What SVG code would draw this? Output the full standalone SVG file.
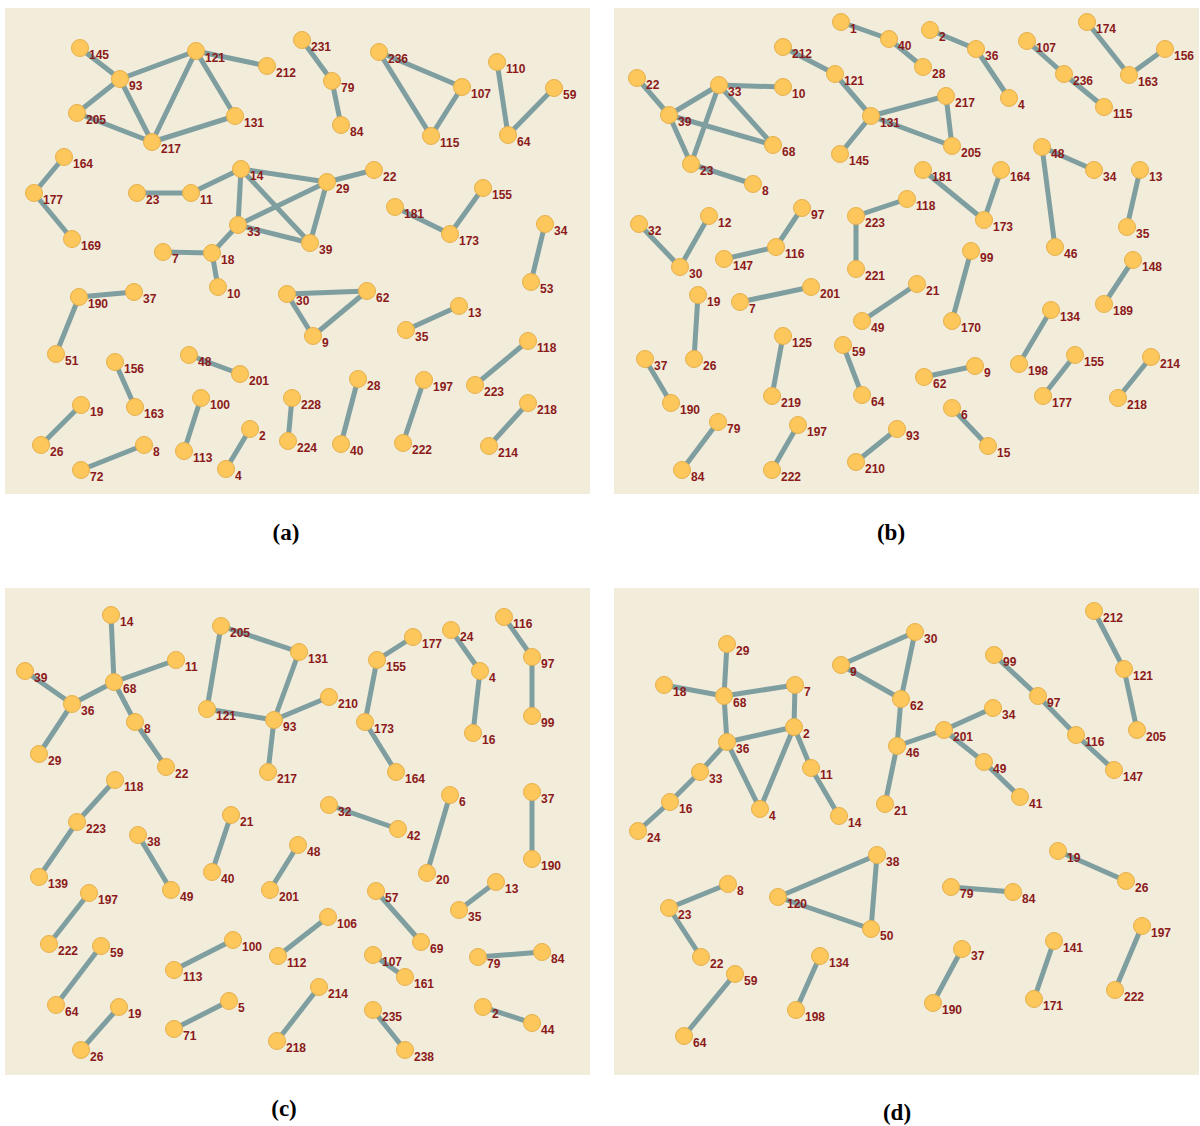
<svg xmlns="http://www.w3.org/2000/svg" width="1200" height="1126" viewBox="0 0 1200 1126">
<style>
.bg{fill:#f2ecdb}
.e line{stroke:#7f9ea0;stroke-width:5;stroke-linecap:round}
.n circle{fill:#fdc75c;stroke:#e6b04a;stroke-width:1}
.n text{font-family:"Liberation Sans",Arial,sans-serif;font-weight:bold;font-size:12px;fill:#8b1a1a}
.cap{font-family:"Liberation Serif","Times New Roman",serif;font-weight:bold;font-size:23px;fill:#000;text-anchor:middle}
</style>
<rect class="bg" x="5" y="8" width="585" height="486"/>
<rect class="bg" x="614" y="8" width="585" height="486"/>
<rect class="bg" x="5" y="588" width="585" height="487"/>
<rect class="bg" x="614" y="588" width="585" height="487"/>
<text class="cap" x="286" y="540">(a)</text>
<text class="cap" x="891" y="540">(b)</text>
<text class="cap" x="284" y="1116">(c)</text>
<text class="cap" x="897" y="1120">(d)</text>

<g id="a-edges" class="e">
<line x1="80" y1="48" x2="120" y2="79"/><line x1="120" y1="79" x2="196" y2="51"/><line x1="120" y1="79" x2="77" y2="113"/><line x1="120" y1="79" x2="152" y2="142"/><line x1="77" y1="113" x2="152" y2="142"/><line x1="196" y1="51" x2="152" y2="142"/><line x1="196" y1="51" x2="267" y2="66"/><line x1="196" y1="51" x2="235" y2="116"/><line x1="235" y1="116" x2="152" y2="142"/>
<line x1="64" y1="157" x2="34" y2="193"/><line x1="34" y1="193" x2="72" y2="239"/>
<line x1="137" y1="193" x2="191" y2="193"/><line x1="191" y1="193" x2="241" y2="169"/><line x1="241" y1="169" x2="327" y2="182"/><line x1="241" y1="169" x2="238" y2="225"/><line x1="241" y1="169" x2="310" y2="243"/><line x1="238" y1="225" x2="327" y2="182"/><line x1="238" y1="225" x2="310" y2="243"/><line x1="327" y1="182" x2="310" y2="243"/><line x1="327" y1="182" x2="374" y2="170"/><line x1="238" y1="225" x2="212" y2="253"/><line x1="212" y1="253" x2="163" y2="252"/><line x1="212" y1="253" x2="218" y2="287"/>
<line x1="302" y1="40" x2="332" y2="81"/><line x1="332" y1="81" x2="341" y2="125"/>
<line x1="379" y1="52" x2="462" y2="87"/><line x1="379" y1="52" x2="431" y2="136"/><line x1="462" y1="87" x2="431" y2="136"/>
<line x1="497" y1="62" x2="508" y2="135"/><line x1="554" y1="88" x2="508" y2="135"/>
<line x1="395" y1="207" x2="450" y2="234"/><line x1="450" y1="234" x2="483" y2="188"/>
<line x1="545" y1="224" x2="531" y2="282"/>
<line x1="79" y1="297" x2="134" y2="292"/><line x1="79" y1="297" x2="56" y2="354"/>
<line x1="287" y1="294" x2="367" y2="291"/><line x1="287" y1="294" x2="313" y2="336"/><line x1="367" y1="291" x2="313" y2="336"/>
<line x1="406" y1="330" x2="459" y2="306"/>
<line x1="115" y1="362" x2="135" y2="407"/>
<line x1="189" y1="355" x2="240" y2="374"/>
<line x1="528" y1="341" x2="475" y2="385"/>
<line x1="81" y1="405" x2="41" y2="445"/>
<line x1="201" y1="398" x2="184" y2="451"/>
<line x1="250" y1="429" x2="226" y2="469"/>
<line x1="292" y1="398" x2="288" y2="441"/>
<line x1="358" y1="379" x2="341" y2="444"/>
<line x1="424" y1="380" x2="403" y2="443"/>
<line x1="528" y1="403" x2="489" y2="446"/>
<line x1="144" y1="445" x2="81" y2="470"/>
</g>

<g id="b-edges" class="e">
<line x1="841" y1="22" x2="889" y2="39"/><line x1="889" y1="39" x2="923" y2="67"/>
<line x1="930" y1="30" x2="976" y2="49"/><line x1="976" y1="49" x2="1009" y2="98"/>
<line x1="1027" y1="41" x2="1064" y2="74"/><line x1="1064" y1="74" x2="1104" y2="107"/>
<line x1="1087" y1="22" x2="1129" y2="75"/><line x1="1129" y1="75" x2="1165" y2="49"/>
<line x1="783" y1="47" x2="835" y2="74"/><line x1="835" y1="74" x2="871" y2="116"/><line x1="871" y1="116" x2="840" y2="154"/><line x1="871" y1="116" x2="946" y2="96"/><line x1="871" y1="116" x2="952" y2="146"/><line x1="946" y1="96" x2="952" y2="146"/>
<line x1="637" y1="78" x2="669" y2="115"/><line x1="669" y1="115" x2="719" y2="85"/><line x1="669" y1="115" x2="691" y2="164"/><line x1="669" y1="115" x2="773" y2="145"/><line x1="719" y1="85" x2="783" y2="87"/><line x1="719" y1="85" x2="691" y2="164"/><line x1="719" y1="85" x2="773" y2="145"/><line x1="691" y1="164" x2="753" y2="184"/>
<line x1="1042" y1="147" x2="1094" y2="170"/><line x1="1042" y1="147" x2="1055" y2="247"/>
<line x1="1140" y1="170" x2="1127" y2="227"/>
<line x1="923" y1="170" x2="984" y2="220"/><line x1="1001" y1="170" x2="984" y2="220"/>
<line x1="639" y1="224" x2="680" y2="267"/><line x1="709" y1="216" x2="680" y2="267"/>
<line x1="724" y1="259" x2="776" y2="247"/><line x1="776" y1="247" x2="802" y2="208"/>
<line x1="856" y1="216" x2="907" y2="199"/><line x1="856" y1="216" x2="856" y2="269"/>
<line x1="971" y1="251" x2="952" y2="321"/>
<line x1="1133" y1="260" x2="1104" y2="304"/>
<line x1="698" y1="295" x2="694" y2="359"/>
<line x1="740" y1="302" x2="811" y2="287"/>
<line x1="917" y1="284" x2="862" y2="321"/>
<line x1="1051" y1="310" x2="1019" y2="364"/>
<line x1="1075" y1="355" x2="1043" y2="396"/>
<line x1="1151" y1="357" x2="1118" y2="398"/>
<line x1="783" y1="336" x2="772" y2="396"/>
<line x1="843" y1="345" x2="862" y2="395"/>
<line x1="924" y1="377" x2="975" y2="366"/>
<line x1="645" y1="359" x2="671" y2="403"/>
<line x1="952" y1="408" x2="988" y2="446"/>
<line x1="718" y1="422" x2="682" y2="470"/>
<line x1="798" y1="425" x2="772" y2="470"/>
<line x1="897" y1="429" x2="856" y2="462"/>
</g>

<g id="c-edges" class="e">
<line x1="111" y1="615" x2="114" y2="682"/><line x1="114" y1="682" x2="176" y2="660"/><line x1="114" y1="682" x2="72" y2="704"/><line x1="114" y1="682" x2="135" y2="722"/><line x1="25" y1="671" x2="72" y2="704"/><line x1="72" y1="704" x2="39" y2="754"/><line x1="135" y1="722" x2="166" y2="767"/>
<line x1="221" y1="626" x2="299" y2="652"/><line x1="221" y1="626" x2="207" y2="709"/><line x1="207" y1="709" x2="274" y2="720"/><line x1="274" y1="720" x2="299" y2="652"/><line x1="274" y1="720" x2="329" y2="697"/><line x1="274" y1="720" x2="268" y2="772"/>
<line x1="413" y1="637" x2="377" y2="660"/><line x1="377" y1="660" x2="365" y2="722"/><line x1="365" y1="722" x2="396" y2="772"/>
<line x1="451" y1="630" x2="480" y2="671"/><line x1="480" y1="671" x2="473" y2="733"/>
<line x1="504" y1="617" x2="532" y2="657"/><line x1="532" y1="657" x2="532" y2="716"/>
<line x1="115" y1="780" x2="77" y2="822"/><line x1="77" y1="822" x2="39" y2="877"/>
<line x1="138" y1="835" x2="171" y2="890"/>
<line x1="231" y1="815" x2="212" y2="872"/>
<line x1="298" y1="845" x2="270" y2="890"/>
<line x1="329" y1="805" x2="398" y2="829"/>
<line x1="450" y1="795" x2="427" y2="873"/>
<line x1="532" y1="792" x2="532" y2="859"/>
<line x1="89" y1="893" x2="49" y2="944"/>
<line x1="101" y1="946" x2="56" y2="1005"/>
<line x1="119" y1="1007" x2="81" y2="1050"/>
<line x1="233" y1="940" x2="174" y2="970"/>
<line x1="229" y1="1001" x2="174" y2="1029"/>
<line x1="328" y1="917" x2="278" y2="956"/>
<line x1="319" y1="987" x2="277" y2="1041"/>
<line x1="376" y1="891" x2="421" y2="942"/>
<line x1="496" y1="882" x2="459" y2="910"/>
<line x1="373" y1="955" x2="405" y2="977"/>
<line x1="478" y1="957" x2="542" y2="952"/>
<line x1="373" y1="1010" x2="405" y2="1050"/>
<line x1="483" y1="1007" x2="532" y2="1023"/>
</g>

<g id="d-edges" class="e">
<line x1="727" y1="644" x2="724" y2="696"/><line x1="664" y1="685" x2="724" y2="696"/><line x1="724" y1="696" x2="795" y2="685"/><line x1="724" y1="696" x2="727" y2="742"/><line x1="795" y1="685" x2="794" y2="727"/><line x1="794" y1="727" x2="727" y2="742"/><line x1="794" y1="727" x2="760" y2="809"/><line x1="794" y1="727" x2="811" y2="768"/><line x1="811" y1="768" x2="839" y2="816"/><line x1="727" y1="742" x2="760" y2="809"/><line x1="727" y1="742" x2="700" y2="772"/><line x1="700" y1="772" x2="670" y2="802"/><line x1="670" y1="802" x2="638" y2="831"/>
<line x1="841" y1="665" x2="915" y2="632"/><line x1="841" y1="665" x2="901" y2="699"/><line x1="915" y1="632" x2="901" y2="699"/><line x1="901" y1="699" x2="897" y2="746"/><line x1="897" y1="746" x2="885" y2="804"/><line x1="897" y1="746" x2="944" y2="730"/><line x1="944" y1="730" x2="993" y2="708"/><line x1="944" y1="730" x2="984" y2="762"/><line x1="984" y1="762" x2="1020" y2="797"/>
<line x1="994" y1="655" x2="1038" y2="696"/><line x1="1038" y1="696" x2="1076" y2="735"/><line x1="1076" y1="735" x2="1114" y2="770"/>
<line x1="1094" y1="611" x2="1124" y2="669"/><line x1="1124" y1="669" x2="1137" y2="730"/>
<line x1="877" y1="855" x2="778" y2="897"/><line x1="877" y1="855" x2="871" y2="929"/><line x1="778" y1="897" x2="871" y2="929"/>
<line x1="728" y1="884" x2="669" y2="908"/><line x1="669" y1="908" x2="701" y2="957"/>
<line x1="735" y1="974" x2="684" y2="1036"/>
<line x1="820" y1="956" x2="796" y2="1010"/>
<line x1="1058" y1="851" x2="1126" y2="881"/>
<line x1="951" y1="887" x2="1013" y2="892"/>
<line x1="962" y1="949" x2="933" y2="1003"/>
<line x1="1054" y1="941" x2="1034" y2="999"/>
<line x1="1142" y1="926" x2="1115" y2="990"/>
</g>

<g id="a-145" class="n"><circle cx="80" cy="48" r="8.5"/><text x="89" y="59">145</text></g>
<g id="a-93" class="n"><circle cx="120" cy="79" r="8.5"/><text x="129" y="90">93</text></g>
<g id="a-205" class="n"><circle cx="77" cy="113" r="8.5"/><text x="86" y="124">205</text></g>
<g id="a-217" class="n"><circle cx="152" cy="142" r="8.5"/><text x="161" y="153">217</text></g>
<g id="a-121" class="n"><circle cx="196" cy="51" r="8.5"/><text x="205" y="62">121</text></g>
<g id="a-212" class="n"><circle cx="267" cy="66" r="8.5"/><text x="276" y="77">212</text></g>
<g id="a-131" class="n"><circle cx="235" cy="116" r="8.5"/><text x="244" y="127">131</text></g>
<g id="a-164" class="n"><circle cx="64" cy="157" r="8.5"/><text x="73" y="168">164</text></g>
<g id="a-177" class="n"><circle cx="34" cy="193" r="8.5"/><text x="43" y="204">177</text></g>
<g id="a-169" class="n"><circle cx="72" cy="239" r="8.5"/><text x="81" y="250">169</text></g>
<g id="a-23" class="n"><circle cx="137" cy="193" r="8.5"/><text x="146" y="204">23</text></g>
<g id="a-11" class="n"><circle cx="191" cy="193" r="8.5"/><text x="200" y="204">11</text></g>
<g id="a-14" class="n"><circle cx="241" cy="169" r="8.5"/><text x="250" y="180">14</text></g>
<g id="a-33" class="n"><circle cx="238" cy="225" r="8.5"/><text x="247" y="236">33</text></g>
<g id="a-18" class="n"><circle cx="212" cy="253" r="8.5"/><text x="221" y="264">18</text></g>
<g id="a-7" class="n"><circle cx="163" cy="252" r="8.5"/><text x="172" y="263">7</text></g>
<g id="a-10" class="n"><circle cx="218" cy="287" r="8.5"/><text x="227" y="298">10</text></g>
<g id="a-190" class="n"><circle cx="79" cy="297" r="8.5"/><text x="88" y="308">190</text></g>
<g id="a-37" class="n"><circle cx="134" cy="292" r="8.5"/><text x="143" y="303">37</text></g>
<g id="a-51" class="n"><circle cx="56" cy="354" r="8.5"/><text x="65" y="365">51</text></g>
<g id="a-156" class="n"><circle cx="115" cy="362" r="8.5"/><text x="124" y="373">156</text></g>
<g id="a-163" class="n"><circle cx="135" cy="407" r="8.5"/><text x="144" y="418">163</text></g>
<g id="a-48" class="n"><circle cx="189" cy="355" r="8.5"/><text x="198" y="366">48</text></g>
<g id="a-201" class="n"><circle cx="240" cy="374" r="8.5"/><text x="249" y="385">201</text></g>
<g id="a-19" class="n"><circle cx="81" cy="405" r="8.5"/><text x="90" y="416">19</text></g>
<g id="a-26" class="n"><circle cx="41" cy="445" r="8.5"/><text x="50" y="456">26</text></g>
<g id="a-100" class="n"><circle cx="201" cy="398" r="8.5"/><text x="210" y="409">100</text></g>
<g id="a-113" class="n"><circle cx="184" cy="451" r="8.5"/><text x="193" y="462">113</text></g>
<g id="a-2" class="n"><circle cx="250" cy="429" r="8.5"/><text x="259" y="440">2</text></g>
<g id="a-4" class="n"><circle cx="226" cy="469" r="8.5"/><text x="235" y="480">4</text></g>
<g id="a-8" class="n"><circle cx="144" cy="445" r="8.5"/><text x="153" y="456">8</text></g>
<g id="a-72" class="n"><circle cx="81" cy="470" r="8.5"/><text x="90" y="481">72</text></g>
<g id="a-231" class="n"><circle cx="302" cy="40" r="8.5"/><text x="311" y="51">231</text></g>
<g id="a-79" class="n"><circle cx="332" cy="81" r="8.5"/><text x="341" y="92">79</text></g>
<g id="a-84" class="n"><circle cx="341" cy="125" r="8.5"/><text x="350" y="136">84</text></g>
<g id="a-236" class="n"><circle cx="379" cy="52" r="8.5"/><text x="388" y="63">236</text></g>
<g id="a-107" class="n"><circle cx="462" cy="87" r="8.5"/><text x="471" y="98">107</text></g>
<g id="a-115" class="n"><circle cx="431" cy="136" r="8.5"/><text x="440" y="147">115</text></g>
<g id="a-110" class="n"><circle cx="497" cy="62" r="8.5"/><text x="506" y="73">110</text></g>
<g id="a-59" class="n"><circle cx="554" cy="88" r="8.5"/><text x="563" y="99">59</text></g>
<g id="a-64" class="n"><circle cx="508" cy="135" r="8.5"/><text x="517" y="146">64</text></g>
<g id="a-22" class="n"><circle cx="374" cy="170" r="8.5"/><text x="383" y="181">22</text></g>
<g id="a-29" class="n"><circle cx="327" cy="182" r="8.5"/><text x="336" y="193">29</text></g>
<g id="a-39" class="n"><circle cx="310" cy="243" r="8.5"/><text x="319" y="254">39</text></g>
<g id="a-181" class="n"><circle cx="395" cy="207" r="8.5"/><text x="404" y="218">181</text></g>
<g id="a-173" class="n"><circle cx="450" cy="234" r="8.5"/><text x="459" y="245">173</text></g>
<g id="a-155" class="n"><circle cx="483" cy="188" r="8.5"/><text x="492" y="199">155</text></g>
<g id="a-34" class="n"><circle cx="545" cy="224" r="8.5"/><text x="554" y="235">34</text></g>
<g id="a-53" class="n"><circle cx="531" cy="282" r="8.5"/><text x="540" y="293">53</text></g>
<g id="a-30" class="n"><circle cx="287" cy="294" r="8.5"/><text x="296" y="305">30</text></g>
<g id="a-62" class="n"><circle cx="367" cy="291" r="8.5"/><text x="376" y="302">62</text></g>
<g id="a-9" class="n"><circle cx="313" cy="336" r="8.5"/><text x="322" y="347">9</text></g>
<g id="a-35" class="n"><circle cx="406" cy="330" r="8.5"/><text x="415" y="341">35</text></g>
<g id="a-13" class="n"><circle cx="459" cy="306" r="8.5"/><text x="468" y="317">13</text></g>
<g id="a-118" class="n"><circle cx="528" cy="341" r="8.5"/><text x="537" y="352">118</text></g>
<g id="a-223" class="n"><circle cx="475" cy="385" r="8.5"/><text x="484" y="396">223</text></g>
<g id="a-28" class="n"><circle cx="358" cy="379" r="8.5"/><text x="367" y="390">28</text></g>
<g id="a-40" class="n"><circle cx="341" cy="444" r="8.5"/><text x="350" y="455">40</text></g>
<g id="a-197" class="n"><circle cx="424" cy="380" r="8.5"/><text x="433" y="391">197</text></g>
<g id="a-222" class="n"><circle cx="403" cy="443" r="8.5"/><text x="412" y="454">222</text></g>
<g id="a-218" class="n"><circle cx="528" cy="403" r="8.5"/><text x="537" y="414">218</text></g>
<g id="a-214" class="n"><circle cx="489" cy="446" r="8.5"/><text x="498" y="457">214</text></g>
<g id="a-228" class="n"><circle cx="292" cy="398" r="8.5"/><text x="301" y="409">228</text></g>
<g id="a-224" class="n"><circle cx="288" cy="441" r="8.5"/><text x="297" y="452">224</text></g>

<g id="b-1" class="n"><circle cx="841" cy="22" r="8.5"/><text x="850" y="33">1</text></g>
<g id="b-40" class="n"><circle cx="889" cy="39" r="8.5"/><text x="898" y="50">40</text></g>
<g id="b-28" class="n"><circle cx="923" cy="67" r="8.5"/><text x="932" y="78">28</text></g>
<g id="b-212" class="n"><circle cx="783" cy="47" r="8.5"/><text x="792" y="58">212</text></g>
<g id="b-121" class="n"><circle cx="835" cy="74" r="8.5"/><text x="844" y="85">121</text></g>
<g id="b-131" class="n"><circle cx="871" cy="116" r="8.5"/><text x="880" y="127">131</text></g>
<g id="b-145" class="n"><circle cx="840" cy="154" r="8.5"/><text x="849" y="165">145</text></g>
<g id="b-217" class="n"><circle cx="946" cy="96" r="8.5"/><text x="955" y="107">217</text></g>
<g id="b-205" class="n"><circle cx="952" cy="146" r="8.5"/><text x="961" y="157">205</text></g>
<g id="b-22" class="n"><circle cx="637" cy="78" r="8.5"/><text x="646" y="89">22</text></g>
<g id="b-39" class="n"><circle cx="669" cy="115" r="8.5"/><text x="678" y="126">39</text></g>
<g id="b-33" class="n"><circle cx="719" cy="85" r="8.5"/><text x="728" y="96">33</text></g>
<g id="b-10" class="n"><circle cx="783" cy="87" r="8.5"/><text x="792" y="98">10</text></g>
<g id="b-68" class="n"><circle cx="773" cy="145" r="8.5"/><text x="782" y="156">68</text></g>
<g id="b-23" class="n"><circle cx="691" cy="164" r="8.5"/><text x="700" y="175">23</text></g>
<g id="b-8" class="n"><circle cx="753" cy="184" r="8.5"/><text x="762" y="195">8</text></g>
<g id="b-32" class="n"><circle cx="639" cy="224" r="8.5"/><text x="648" y="235">32</text></g>
<g id="b-12" class="n"><circle cx="709" cy="216" r="8.5"/><text x="718" y="227">12</text></g>
<g id="b-30" class="n"><circle cx="680" cy="267" r="8.5"/><text x="689" y="278">30</text></g>
<g id="b-147" class="n"><circle cx="724" cy="259" r="8.5"/><text x="733" y="270">147</text></g>
<g id="b-116" class="n"><circle cx="776" cy="247" r="8.5"/><text x="785" y="258">116</text></g>
<g id="b-97" class="n"><circle cx="802" cy="208" r="8.5"/><text x="811" y="219">97</text></g>
<g id="b-223" class="n"><circle cx="856" cy="216" r="8.5"/><text x="865" y="227">223</text></g>
<g id="b-118" class="n"><circle cx="907" cy="199" r="8.5"/><text x="916" y="210">118</text></g>
<g id="b-221" class="n"><circle cx="856" cy="269" r="8.5"/><text x="865" y="280">221</text></g>
<g id="b-19" class="n"><circle cx="698" cy="295" r="8.5"/><text x="707" y="306">19</text></g>
<g id="b-26" class="n"><circle cx="694" cy="359" r="8.5"/><text x="703" y="370">26</text></g>
<g id="b-7" class="n"><circle cx="740" cy="302" r="8.5"/><text x="749" y="313">7</text></g>
<g id="b-201" class="n"><circle cx="811" cy="287" r="8.5"/><text x="820" y="298">201</text></g>
<g id="b-49" class="n"><circle cx="862" cy="321" r="8.5"/><text x="871" y="332">49</text></g>
<g id="b-21" class="n"><circle cx="917" cy="284" r="8.5"/><text x="926" y="295">21</text></g>
<g id="b-37" class="n"><circle cx="645" cy="359" r="8.5"/><text x="654" y="370">37</text></g>
<g id="b-190" class="n"><circle cx="671" cy="403" r="8.5"/><text x="680" y="414">190</text></g>
<g id="b-125" class="n"><circle cx="783" cy="336" r="8.5"/><text x="792" y="347">125</text></g>
<g id="b-219" class="n"><circle cx="772" cy="396" r="8.5"/><text x="781" y="407">219</text></g>
<g id="b-59" class="n"><circle cx="843" cy="345" r="8.5"/><text x="852" y="356">59</text></g>
<g id="b-64" class="n"><circle cx="862" cy="395" r="8.5"/><text x="871" y="406">64</text></g>
<g id="b-79" class="n"><circle cx="718" cy="422" r="8.5"/><text x="727" y="433">79</text></g>
<g id="b-84" class="n"><circle cx="682" cy="470" r="8.5"/><text x="691" y="481">84</text></g>
<g id="b-197" class="n"><circle cx="798" cy="425" r="8.5"/><text x="807" y="436">197</text></g>
<g id="b-222" class="n"><circle cx="772" cy="470" r="8.5"/><text x="781" y="481">222</text></g>
<g id="b-93" class="n"><circle cx="897" cy="429" r="8.5"/><text x="906" y="440">93</text></g>
<g id="b-210" class="n"><circle cx="856" cy="462" r="8.5"/><text x="865" y="473">210</text></g>
<g id="b-2" class="n"><circle cx="930" cy="30" r="8.5"/><text x="939" y="41">2</text></g>
<g id="b-36" class="n"><circle cx="976" cy="49" r="8.5"/><text x="985" y="60">36</text></g>
<g id="b-4" class="n"><circle cx="1009" cy="98" r="8.5"/><text x="1018" y="109">4</text></g>
<g id="b-107" class="n"><circle cx="1027" cy="41" r="8.5"/><text x="1036" y="52">107</text></g>
<g id="b-236" class="n"><circle cx="1064" cy="74" r="8.5"/><text x="1073" y="85">236</text></g>
<g id="b-115" class="n"><circle cx="1104" cy="107" r="8.5"/><text x="1113" y="118">115</text></g>
<g id="b-174" class="n"><circle cx="1087" cy="22" r="8.5"/><text x="1096" y="33">174</text></g>
<g id="b-163" class="n"><circle cx="1129" cy="75" r="8.5"/><text x="1138" y="86">163</text></g>
<g id="b-156" class="n"><circle cx="1165" cy="49" r="8.5"/><text x="1174" y="60">156</text></g>
<g id="b-48" class="n"><circle cx="1042" cy="147" r="8.5"/><text x="1051" y="158">48</text></g>
<g id="b-34" class="n"><circle cx="1094" cy="170" r="8.5"/><text x="1103" y="181">34</text></g>
<g id="b-46" class="n"><circle cx="1055" cy="247" r="8.5"/><text x="1064" y="258">46</text></g>
<g id="b-13" class="n"><circle cx="1140" cy="170" r="8.5"/><text x="1149" y="181">13</text></g>
<g id="b-35" class="n"><circle cx="1127" cy="227" r="8.5"/><text x="1136" y="238">35</text></g>
<g id="b-181" class="n"><circle cx="923" cy="170" r="8.5"/><text x="932" y="181">181</text></g>
<g id="b-164" class="n"><circle cx="1001" cy="170" r="8.5"/><text x="1010" y="181">164</text></g>
<g id="b-173" class="n"><circle cx="984" cy="220" r="8.5"/><text x="993" y="231">173</text></g>
<g id="b-99" class="n"><circle cx="971" cy="251" r="8.5"/><text x="980" y="262">99</text></g>
<g id="b-170" class="n"><circle cx="952" cy="321" r="8.5"/><text x="961" y="332">170</text></g>
<g id="b-148" class="n"><circle cx="1133" cy="260" r="8.5"/><text x="1142" y="271">148</text></g>
<g id="b-189" class="n"><circle cx="1104" cy="304" r="8.5"/><text x="1113" y="315">189</text></g>
<g id="b-134" class="n"><circle cx="1051" cy="310" r="8.5"/><text x="1060" y="321">134</text></g>
<g id="b-198" class="n"><circle cx="1019" cy="364" r="8.5"/><text x="1028" y="375">198</text></g>
<g id="b-155" class="n"><circle cx="1075" cy="355" r="8.5"/><text x="1084" y="366">155</text></g>
<g id="b-177" class="n"><circle cx="1043" cy="396" r="8.5"/><text x="1052" y="407">177</text></g>
<g id="b-214" class="n"><circle cx="1151" cy="357" r="8.5"/><text x="1160" y="368">214</text></g>
<g id="b-218" class="n"><circle cx="1118" cy="398" r="8.5"/><text x="1127" y="409">218</text></g>
<g id="b-62" class="n"><circle cx="924" cy="377" r="8.5"/><text x="933" y="388">62</text></g>
<g id="b-9" class="n"><circle cx="975" cy="366" r="8.5"/><text x="984" y="377">9</text></g>
<g id="b-6" class="n"><circle cx="952" cy="408" r="8.5"/><text x="961" y="419">6</text></g>
<g id="b-15" class="n"><circle cx="988" cy="446" r="8.5"/><text x="997" y="457">15</text></g>

<g id="c-14" class="n"><circle cx="111" cy="615" r="8.5"/><text x="120" y="626">14</text></g>
<g id="c-39" class="n"><circle cx="25" cy="671" r="8.5"/><text x="34" y="682">39</text></g>
<g id="c-68" class="n"><circle cx="114" cy="682" r="8.5"/><text x="123" y="693">68</text></g>
<g id="c-11" class="n"><circle cx="176" cy="660" r="8.5"/><text x="185" y="671">11</text></g>
<g id="c-36" class="n"><circle cx="72" cy="704" r="8.5"/><text x="81" y="715">36</text></g>
<g id="c-8" class="n"><circle cx="135" cy="722" r="8.5"/><text x="144" y="733">8</text></g>
<g id="c-29" class="n"><circle cx="39" cy="754" r="8.5"/><text x="48" y="765">29</text></g>
<g id="c-22" class="n"><circle cx="166" cy="767" r="8.5"/><text x="175" y="778">22</text></g>
<g id="c-205" class="n"><circle cx="221" cy="626" r="8.5"/><text x="230" y="637">205</text></g>
<g id="c-121" class="n"><circle cx="207" cy="709" r="8.5"/><text x="216" y="720">121</text></g>
<g id="c-93" class="n"><circle cx="274" cy="720" r="8.5"/><text x="283" y="731">93</text></g>
<g id="c-217" class="n"><circle cx="268" cy="772" r="8.5"/><text x="277" y="783">217</text></g>
<g id="c-131" class="n"><circle cx="299" cy="652" r="8.5"/><text x="308" y="663">131</text></g>
<g id="c-210" class="n"><circle cx="329" cy="697" r="8.5"/><text x="338" y="708">210</text></g>
<g id="c-118" class="n"><circle cx="115" cy="780" r="8.5"/><text x="124" y="791">118</text></g>
<g id="c-223" class="n"><circle cx="77" cy="822" r="8.5"/><text x="86" y="833">223</text></g>
<g id="c-139" class="n"><circle cx="39" cy="877" r="8.5"/><text x="48" y="888">139</text></g>
<g id="c-38" class="n"><circle cx="138" cy="835" r="8.5"/><text x="147" y="846">38</text></g>
<g id="c-49" class="n"><circle cx="171" cy="890" r="8.5"/><text x="180" y="901">49</text></g>
<g id="c-21" class="n"><circle cx="231" cy="815" r="8.5"/><text x="240" y="826">21</text></g>
<g id="c-40" class="n"><circle cx="212" cy="872" r="8.5"/><text x="221" y="883">40</text></g>
<g id="c-48" class="n"><circle cx="298" cy="845" r="8.5"/><text x="307" y="856">48</text></g>
<g id="c-201" class="n"><circle cx="270" cy="890" r="8.5"/><text x="279" y="901">201</text></g>
<g id="c-197" class="n"><circle cx="89" cy="893" r="8.5"/><text x="98" y="904">197</text></g>
<g id="c-222" class="n"><circle cx="49" cy="944" r="8.5"/><text x="58" y="955">222</text></g>
<g id="c-59" class="n"><circle cx="101" cy="946" r="8.5"/><text x="110" y="957">59</text></g>
<g id="c-64" class="n"><circle cx="56" cy="1005" r="8.5"/><text x="65" y="1016">64</text></g>
<g id="c-19" class="n"><circle cx="119" cy="1007" r="8.5"/><text x="128" y="1018">19</text></g>
<g id="c-26" class="n"><circle cx="81" cy="1050" r="8.5"/><text x="90" y="1061">26</text></g>
<g id="c-100" class="n"><circle cx="233" cy="940" r="8.5"/><text x="242" y="951">100</text></g>
<g id="c-113" class="n"><circle cx="174" cy="970" r="8.5"/><text x="183" y="981">113</text></g>
<g id="c-5" class="n"><circle cx="229" cy="1001" r="8.5"/><text x="238" y="1012">5</text></g>
<g id="c-71" class="n"><circle cx="174" cy="1029" r="8.5"/><text x="183" y="1040">71</text></g>
<g id="c-112" class="n"><circle cx="278" cy="956" r="8.5"/><text x="287" y="967">112</text></g>
<g id="c-106" class="n"><circle cx="328" cy="917" r="8.5"/><text x="337" y="928">106</text></g>
<g id="c-214" class="n"><circle cx="319" cy="987" r="8.5"/><text x="328" y="998">214</text></g>
<g id="c-218" class="n"><circle cx="277" cy="1041" r="8.5"/><text x="286" y="1052">218</text></g>
<g id="c-177" class="n"><circle cx="413" cy="637" r="8.5"/><text x="422" y="648">177</text></g>
<g id="c-155" class="n"><circle cx="377" cy="660" r="8.5"/><text x="386" y="671">155</text></g>
<g id="c-173" class="n"><circle cx="365" cy="722" r="8.5"/><text x="374" y="733">173</text></g>
<g id="c-164" class="n"><circle cx="396" cy="772" r="8.5"/><text x="405" y="783">164</text></g>
<g id="c-24" class="n"><circle cx="451" cy="630" r="8.5"/><text x="460" y="641">24</text></g>
<g id="c-4" class="n"><circle cx="480" cy="671" r="8.5"/><text x="489" y="682">4</text></g>
<g id="c-16" class="n"><circle cx="473" cy="733" r="8.5"/><text x="482" y="744">16</text></g>
<g id="c-116" class="n"><circle cx="504" cy="617" r="8.5"/><text x="513" y="628">116</text></g>
<g id="c-97" class="n"><circle cx="532" cy="657" r="8.5"/><text x="541" y="668">97</text></g>
<g id="c-99" class="n"><circle cx="532" cy="716" r="8.5"/><text x="541" y="727">99</text></g>
<g id="c-32" class="n"><circle cx="329" cy="805" r="8.5"/><text x="338" y="816">32</text></g>
<g id="c-42" class="n"><circle cx="398" cy="829" r="8.5"/><text x="407" y="840">42</text></g>
<g id="c-6" class="n"><circle cx="450" cy="795" r="8.5"/><text x="459" y="806">6</text></g>
<g id="c-20" class="n"><circle cx="427" cy="873" r="8.5"/><text x="436" y="884">20</text></g>
<g id="c-37" class="n"><circle cx="532" cy="792" r="8.5"/><text x="541" y="803">37</text></g>
<g id="c-190" class="n"><circle cx="532" cy="859" r="8.5"/><text x="541" y="870">190</text></g>
<g id="c-57" class="n"><circle cx="376" cy="891" r="8.5"/><text x="385" y="902">57</text></g>
<g id="c-69" class="n"><circle cx="421" cy="942" r="8.5"/><text x="430" y="953">69</text></g>
<g id="c-13" class="n"><circle cx="496" cy="882" r="8.5"/><text x="505" y="893">13</text></g>
<g id="c-35" class="n"><circle cx="459" cy="910" r="8.5"/><text x="468" y="921">35</text></g>
<g id="c-107" class="n"><circle cx="373" cy="955" r="8.5"/><text x="382" y="966">107</text></g>
<g id="c-161" class="n"><circle cx="405" cy="977" r="8.5"/><text x="414" y="988">161</text></g>
<g id="c-79" class="n"><circle cx="478" cy="957" r="8.5"/><text x="487" y="968">79</text></g>
<g id="c-84" class="n"><circle cx="542" cy="952" r="8.5"/><text x="551" y="963">84</text></g>
<g id="c-235" class="n"><circle cx="373" cy="1010" r="8.5"/><text x="382" y="1021">235</text></g>
<g id="c-238" class="n"><circle cx="405" cy="1050" r="8.5"/><text x="414" y="1061">238</text></g>
<g id="c-2" class="n"><circle cx="483" cy="1007" r="8.5"/><text x="492" y="1018">2</text></g>
<g id="c-44" class="n"><circle cx="532" cy="1023" r="8.5"/><text x="541" y="1034">44</text></g>

<g id="d-29" class="n"><circle cx="727" cy="644" r="8.5"/><text x="736" y="655">29</text></g>
<g id="d-18" class="n"><circle cx="664" cy="685" r="8.5"/><text x="673" y="696">18</text></g>
<g id="d-68" class="n"><circle cx="724" cy="696" r="8.5"/><text x="733" y="707">68</text></g>
<g id="d-7" class="n"><circle cx="795" cy="685" r="8.5"/><text x="804" y="696">7</text></g>
<g id="d-2" class="n"><circle cx="794" cy="727" r="8.5"/><text x="803" y="738">2</text></g>
<g id="d-36" class="n"><circle cx="727" cy="742" r="8.5"/><text x="736" y="753">36</text></g>
<g id="d-33" class="n"><circle cx="700" cy="772" r="8.5"/><text x="709" y="783">33</text></g>
<g id="d-16" class="n"><circle cx="670" cy="802" r="8.5"/><text x="679" y="813">16</text></g>
<g id="d-24" class="n"><circle cx="638" cy="831" r="8.5"/><text x="647" y="842">24</text></g>
<g id="d-4" class="n"><circle cx="760" cy="809" r="8.5"/><text x="769" y="820">4</text></g>
<g id="d-11" class="n"><circle cx="811" cy="768" r="8.5"/><text x="820" y="779">11</text></g>
<g id="d-14" class="n"><circle cx="839" cy="816" r="8.5"/><text x="848" y="827">14</text></g>
<g id="d-9" class="n"><circle cx="841" cy="665" r="8.5"/><text x="850" y="676">9</text></g>
<g id="d-30" class="n"><circle cx="915" cy="632" r="8.5"/><text x="924" y="643">30</text></g>
<g id="d-62" class="n"><circle cx="901" cy="699" r="8.5"/><text x="910" y="710">62</text></g>
<g id="d-46" class="n"><circle cx="897" cy="746" r="8.5"/><text x="906" y="757">46</text></g>
<g id="d-21" class="n"><circle cx="885" cy="804" r="8.5"/><text x="894" y="815">21</text></g>
<g id="d-201" class="n"><circle cx="944" cy="730" r="8.5"/><text x="953" y="741">201</text></g>
<g id="d-34" class="n"><circle cx="993" cy="708" r="8.5"/><text x="1002" y="719">34</text></g>
<g id="d-49" class="n"><circle cx="984" cy="762" r="8.5"/><text x="993" y="773">49</text></g>
<g id="d-41" class="n"><circle cx="1020" cy="797" r="8.5"/><text x="1029" y="808">41</text></g>
<g id="d-99" class="n"><circle cx="994" cy="655" r="8.5"/><text x="1003" y="666">99</text></g>
<g id="d-97" class="n"><circle cx="1038" cy="696" r="8.5"/><text x="1047" y="707">97</text></g>
<g id="d-116" class="n"><circle cx="1076" cy="735" r="8.5"/><text x="1085" y="746">116</text></g>
<g id="d-147" class="n"><circle cx="1114" cy="770" r="8.5"/><text x="1123" y="781">147</text></g>
<g id="d-212" class="n"><circle cx="1094" cy="611" r="8.5"/><text x="1103" y="622">212</text></g>
<g id="d-121" class="n"><circle cx="1124" cy="669" r="8.5"/><text x="1133" y="680">121</text></g>
<g id="d-205" class="n"><circle cx="1137" cy="730" r="8.5"/><text x="1146" y="741">205</text></g>
<g id="d-38" class="n"><circle cx="877" cy="855" r="8.5"/><text x="886" y="866">38</text></g>
<g id="d-120" class="n"><circle cx="778" cy="897" r="8.5"/><text x="787" y="908">120</text></g>
<g id="d-50" class="n"><circle cx="871" cy="929" r="8.5"/><text x="880" y="940">50</text></g>
<g id="d-8" class="n"><circle cx="728" cy="884" r="8.5"/><text x="737" y="895">8</text></g>
<g id="d-23" class="n"><circle cx="669" cy="908" r="8.5"/><text x="678" y="919">23</text></g>
<g id="d-22" class="n"><circle cx="701" cy="957" r="8.5"/><text x="710" y="968">22</text></g>
<g id="d-59" class="n"><circle cx="735" cy="974" r="8.5"/><text x="744" y="985">59</text></g>
<g id="d-64" class="n"><circle cx="684" cy="1036" r="8.5"/><text x="693" y="1047">64</text></g>
<g id="d-134" class="n"><circle cx="820" cy="956" r="8.5"/><text x="829" y="967">134</text></g>
<g id="d-198" class="n"><circle cx="796" cy="1010" r="8.5"/><text x="805" y="1021">198</text></g>
<g id="d-19" class="n"><circle cx="1058" cy="851" r="8.5"/><text x="1067" y="862">19</text></g>
<g id="d-26" class="n"><circle cx="1126" cy="881" r="8.5"/><text x="1135" y="892">26</text></g>
<g id="d-79" class="n"><circle cx="951" cy="887" r="8.5"/><text x="960" y="898">79</text></g>
<g id="d-84" class="n"><circle cx="1013" cy="892" r="8.5"/><text x="1022" y="903">84</text></g>
<g id="d-37" class="n"><circle cx="962" cy="949" r="8.5"/><text x="971" y="960">37</text></g>
<g id="d-190" class="n"><circle cx="933" cy="1003" r="8.5"/><text x="942" y="1014">190</text></g>
<g id="d-141" class="n"><circle cx="1054" cy="941" r="8.5"/><text x="1063" y="952">141</text></g>
<g id="d-171" class="n"><circle cx="1034" cy="999" r="8.5"/><text x="1043" y="1010">171</text></g>
<g id="d-197" class="n"><circle cx="1142" cy="926" r="8.5"/><text x="1151" y="937">197</text></g>
<g id="d-222" class="n"><circle cx="1115" cy="990" r="8.5"/><text x="1124" y="1001">222</text></g>
</svg>
